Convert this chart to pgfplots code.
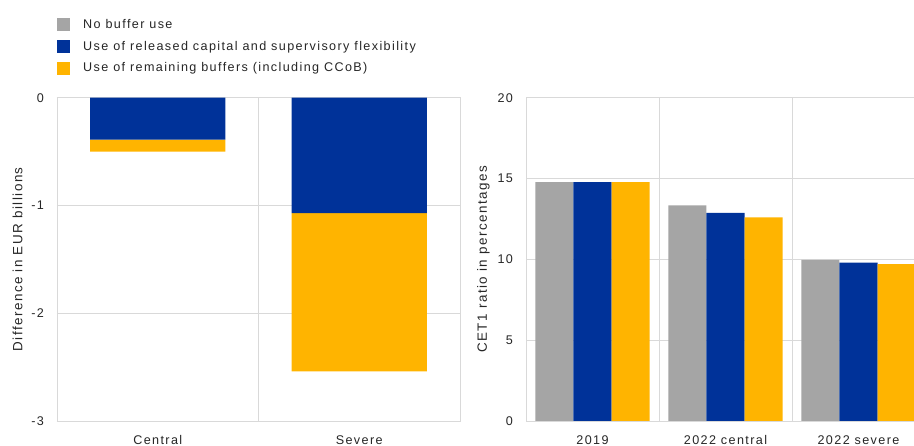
\documentclass[border=0pt]{standalone}
\usepackage{fontspec}
\setmainfont{Liberation Sans}[LetterSpace=11]
\usepackage{pgfplots}
\pgfplotsset{compat=1.18}
\definecolor{ecbgray}{HTML}{A5A5A5}
\definecolor{ecbblue}{HTML}{003299}
\definecolor{ecbyellow}{HTML}{FFB400}
\definecolor{gridgray}{HTML}{D9D9D9}
\definecolor{txt}{HTML}{262626}

\pgfplotsset{
  ecb/.style={
    scale only axis,
    anchor=south west,
    height=323.3pt,
    font=\fontsize{12.6}{15}\selectfont,
    /pgf/number format/assume math mode=true,
    axis line style={gridgray, line width=0.9pt},
    major grid style={gridgray, line width=0.9pt},
    minor grid style={gridgray, line width=0.9pt},
    ymajorgrids, xminorgrids,
    major tick length=0pt, minor tick length=0pt,
    tick style={draw=none},
    ticklabel style={text=txt},
    yticklabel style={xshift=-9.5pt},
    xticklabel style={yshift=-10.5pt, text height=9pt, text depth=0pt},
    label style={text=txt, font=\fontsize{13.4}{16}\selectfont},
  },
  sqlegend/.style={
    legend image code/.code={\fill[##1] (0pt,-6.5pt) rectangle (13pt,6.5pt);},
  },
  every axis y label/.style={at={(axis description cs:0,0.5)}, rotate=90, anchor=center},
}

\begin{document}
\begin{tikzpicture}
\useasboundingbox (0,0) rectangle (914pt,446pt);

% left panel: difference in EUR billions
\begin{axis}[ecb,
    at={(57pt,25pt)}, width=403pt,
    ymin=-3, ymax=0, ytick={-3,-2,-1,0},
    xmin=-0.5, xmax=1.5, xtick={0,1},
    xticklabels={Central,Severe},
    minor xtick={0.5},
    ybar stacked, bar width=0.67, sqlegend,
    ylabel={Difference in EUR billions},
    ylabel style={yshift=39.5pt},
    legend style={at={(0,1)}, anchor=south west, yshift=22pt,
        draw=none, fill=none, inner sep=0pt,
        row sep=7pt, cells={anchor=west, text=txt},
        /tikz/every odd column/.append style={column sep=11pt}},
  ]
  \addlegendimage{fill=ecbgray, draw=none}
  \addlegendentry{No buffer use}
  \addplot[fill=ecbblue, draw=none] coordinates {(0,-0.39) (1,-1.07)};
  \addlegendentry{Use of released capital and supervisory flexibility}
  \addplot[fill=ecbyellow, draw=none] coordinates {(0,-0.11) (1,-1.47)};
  \addlegendentry{Use of remaining buffers (including CCoB)}
\end{axis}

% right panel: CET1 ratio
\begin{axis}[ecb,
    at={(526pt,25pt)}, width=399pt,
    ymin=0, ymax=20, ytick={0,5,10,15,20},
    xmin=-0.5, xmax=2.5, xtick={0,1,2},
    xticklabels={2019,2022 central,2022 severe},
    minor xtick={0.5,1.5},
    ybar=0pt, bar width=0.286,
    ylabel={CET1 ratio in percentages},
    ylabel style={yshift=42.5pt},
  ]
  \addplot[fill=ecbgray, draw=none] coordinates {(0,14.78) (1,13.34) (2,9.97)};
  \addplot[fill=ecbblue, draw=none] coordinates {(0,14.78) (1,12.88) (2,9.80)};
  \addplot[fill=ecbyellow, draw=none] coordinates {(0,14.78) (1,12.59) (2,9.70)};
\end{axis}
\end{tikzpicture}
\end{document}
